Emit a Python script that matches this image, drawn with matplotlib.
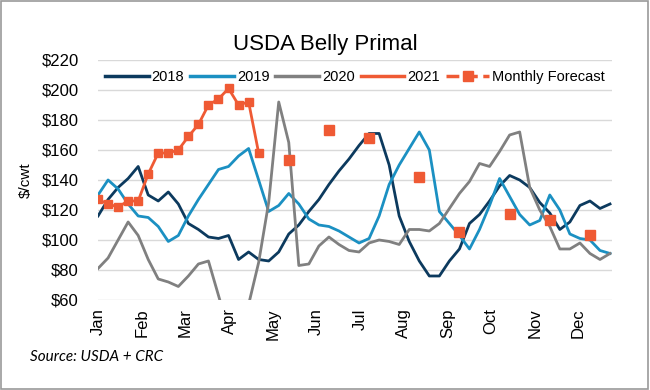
import matplotlib
matplotlib.use("Agg")
import matplotlib.pyplot as plt
from matplotlib.lines import Line2D
from matplotlib.patches import Rectangle
import numpy as np

plt.rcParams['font.family'] = ['Liberation Sans', 'DejaVu Sans']

# weekly prices, $/cwt (week 0 = first week of Jan)
weeks = np.arange(52)
y2018 = [116, 127, 135, 141, 149, 130, 126, 132, 124, 111, 107, 102, 101, 103, 87, 92,
         87, 86, 92, 104, 110, 119, 127, 137, 146, 154, 163, 171, 171, 150, 116, 99,
         86, 76, 76, 86, 94, 111, 117, 126, 136, 143, 140, 135, 125, 118, 107, 112,
         123, 126, 121, 124]
y2019 = [130, 140, 134, 124, 116, 115, 109, 99, 103, 116, 127, 137, 147, 149, 156, 161,
         140, 119, 123, 131, 124, 114, 110, 109, 106, 102, 98, 101, 116, 137, 150, 161,
         172, 160, 119, 111, 103, 94, 107, 123, 141, 129, 117, 110, 113, 130, 120, 104,
         101, 100, 93, 91]
y2020 = [81, 88, 100, 112, 103, 87, 74, 72, 69, 76, 84, 86, 63, 40, 35, 57,
         85, 125, 192, 165, 83, 84, 96, 102, 97, 93, 92, 98, 100, 99, 97, 107,
         107, 106, 111, 121, 131, 139, 151, 149, 159, 170, 172, 135, 120, 109, 94, 94,
         98, 91, 87, 91]
y2021 = [127, 124, 122, 126, 126, 144, 158, 158, 160, 169, 177, 190, 194, 201, 190, 192, 158]
fc_weeks = [19, 23, 27, 32, 36, 41, 45, 49]
fc_vals = [153, 173, 168, 142, 105, 117, 113, 103]

months = ['Jan', 'Feb', 'Mar', 'Apr', 'May', 'Jun', 'Jul', 'Aug', 'Sep', 'Oct', 'Nov', 'Dec']
yticks = [60, 80, 100, 120, 140, 160, 180, 200, 220]

C18 = '#0c3a5e'
C19 = '#1b90c2'
C20 = '#808080'
C21 = '#ef5a34'

fig = plt.figure(figsize=(6.5, 3.9), dpi=100)
ax = fig.add_axes([0.1508, 0.2308, 0.7908, 0.6154])

ax.plot(weeks, y2018, color=C18, lw=2.0)
ax.plot(weeks, y2019, color=C19, lw=2.0)
ax.plot(weeks, y2020, color=C20, lw=2.0)
ax.plot(weeks[:len(y2021)], y2021, color=C21, lw=2.0, marker='s', markersize=5.5)
ax.plot(fc_weeks, fc_vals, color=C21, ls='none', marker='s', markersize=6.5)

ax.set_xlim(0, 51.2)
ax.set_ylim(60, 220)
ax.set_yticks(yticks)
ax.set_yticklabels([f'${v}' for v in yticks], fontsize=12)
ax.set_xticks(np.arange(12) * 4.35)
ax.set_xticklabels(months, rotation=90, fontsize=12)
ax.tick_params(axis='x', length=0, pad=6)
ax.tick_params(axis='y', length=0, pad=14)
ax.grid(axis='y', color='#d9d9d9', lw=1)
ax.set_axisbelow(True)
for s in ax.spines.values():
    s.set_visible(False)
ax.set_ylabel('$/cwt', fontsize=11, labelpad=6)

handles = [Line2D([], [], color=C18, lw=2.5),
           Line2D([], [], color=C19, lw=2.5),
           Line2D([], [], color=C20, lw=2.5),
           Line2D([], [], color=C21, lw=2.5),
           Line2D([], [], color=C21, lw=2.5, ls='--', marker='s', markersize=6.5)]
ax.legend(handles, ['2018', '2019', '2020', '2021', 'Monthly Forecast'],
          loc='upper center', bbox_to_anchor=(0.5, 1.0), ncol=5, frameon=False,
          fontsize=10.5, handlelength=3.0, handletextpad=0.2, columnspacing=0.4,
          borderaxespad=0.3)

fig.text(0.5, 0.885, 'USDA Belly Primal', ha='center', va='center', fontsize=16)
fig.text(0.046, 0.085, 'Source: USDA + CRC', ha='left', va='center', fontsize=11,
         style='italic', family=['Lato', 'Liberation Sans'])

fig.patches.append(Rectangle((0.002, 0.003), 0.995, 0.994, transform=fig.transFigure,
                             fill=False, edgecolor='#9a9a9a', lw=1.2))

fig.savefig('out.png', dpi=100)
